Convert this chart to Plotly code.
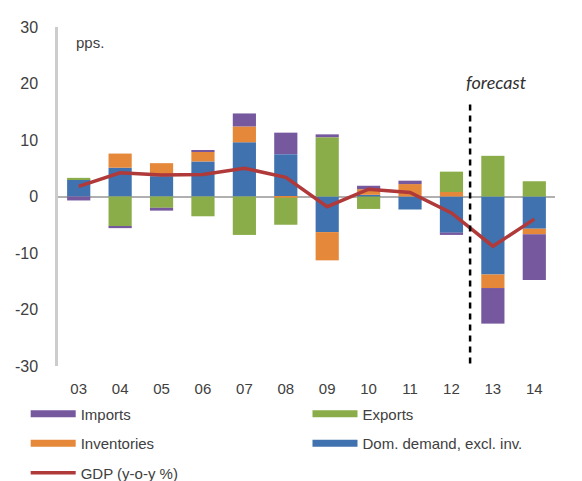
import plotly.graph_objects as go

# Bidrag till BNP-tillväxt, procentenheter
years = ["03", "04", "05", "06", "07", "08", "09", "10", "11", "12", "13", "14"]
dom_demand = [3.0, 5.1, 3.6, 6.2, 9.6, 7.5, -6.3, 0.3, -2.3, -6.4, -13.8, -5.7]
inventories = [0.0, 2.5, 2.3, 1.7, 2.8, -0.2, -5.0, 1.0, 2.2, 0.8, -2.4, -1.0]
exports = [0.3, -5.3, -2.0, -3.5, -6.8, -4.8, 10.5, -2.2, 0.0, 3.6, 7.2, 2.7]
imports = [-0.7, -0.3, -0.5, 0.3, 2.3, 3.8, 0.5, 0.6, 0.6, -0.4, -6.3, -8.1]
gdp = [1.8, 4.2, 3.8, 3.9, 5.0, 3.4, -1.8, 1.3, 0.7, -2.9, -8.8, -4.0]
yticks = [-30, -20, -10, 0, 10, 20, 30]
ytick_labels = ["-30", "-20", "-10", "0", "10", "20", "30"]

c_dom = "#3F72AF"
c_inv = "#E5883A"
c_exp = "#8AAD4A"
c_imp = "#76589F"
c_gdp = "#B0393A"
font = "Liberation Sans, Arial, sans-serif"
grey = "#404040"

fig = go.Figure()

# staplarna, ordningen styr staplingen
for vals, col in [(dom_demand, c_dom), (inventories, c_inv), (exports, c_exp), (imports, c_imp)]:
    fig.add_trace(go.Bar(x=years, y=vals, marker=dict(color=col, line=dict(width=0)),
                         showlegend=False))

fig.add_trace(go.Scatter(x=years, y=gdp, mode="lines", name="GDP (y-o-y %)",
                         line=dict(color=c_gdp, width=3.5), legend="legend",
                         legendgroup="c", legendrank=3))

# legendposter som tjocka linjer
def legend_item(name, col, leg, group, rank):
    fig.add_trace(go.Scatter(x=[None], y=[None], mode="lines", name=name,
                             line=dict(color=col, width=7), legend=leg,
                             legendgroup=group, legendrank=rank))

legend_item("Imports", c_imp, "legend", "a", 1)
legend_item("Inventories", c_inv, "legend", "b", 2)
legend_item("Exports", c_exp, "legend2", "d", 1)
legend_item("Dom. demand, excl. inv.", c_dom, "legend2", "e", 2)

# prognoslinje
fig.add_shape(type="line", x0=9.45, x1=9.45, y0=16.3, y1=-30, xref="x", yref="y",
              line=dict(color="black", width=2.5, dash="6px,5px"))
fig.add_annotation(x=9.3, y=20.2, xref="x", yref="y", text="forecast", showarrow=False,
                   xanchor="left", font=dict(family="Lato, sans-serif", size=18,
                                             color="#303030", style="italic"))
fig.add_annotation(x=-0.12, y=27.2, xref="x", yref="y", text="pps.", showarrow=False,
                   xanchor="left", font=dict(family=font, size=15, color=grey))

leg_common = dict(orientation="v", traceorder="grouped", tracegroupgap=7,
                  font=dict(family=font, size=15, color=grey),
                  bgcolor="rgba(0,0,0,0)", borderwidth=0, yanchor="top", xanchor="left",
                  itemwidth=45)

# sidan har 8 px marginal runt diagrammet
fig.update_layout(
    width=574, height=473,
    margin=dict(l=50, r=27, t=19, b=115, autoexpand=False),
    paper_bgcolor="white", plot_bgcolor="white",
    barmode="relative", bargap=0.44,
    showlegend=True,
    legend=dict(x=-0.065, y=-0.093, **leg_common),
    legend2=dict(x=0.502, y=-0.093, **leg_common),
    font=dict(family=font, size=15, color=grey),
)
fig.update_xaxes(type="category", showline=False, showgrid=False, zeroline=False,
                 ticks="", ticklabelstandoff=12, tickfont=dict(size=15, color=grey))
fig.update_yaxes(range=[-30, 30], tickvals=yticks, ticktext=ytick_labels, showgrid=False,
                 showline=True, linecolor="#CCCCCC", linewidth=2.5,
                 zeroline=True, zerolinecolor="#B0B0B0", zerolinewidth=2,
                 ticks="", ticklabelstandoff=14, tickfont=dict(size=16, color=grey))

fig.write_html("out.html")
